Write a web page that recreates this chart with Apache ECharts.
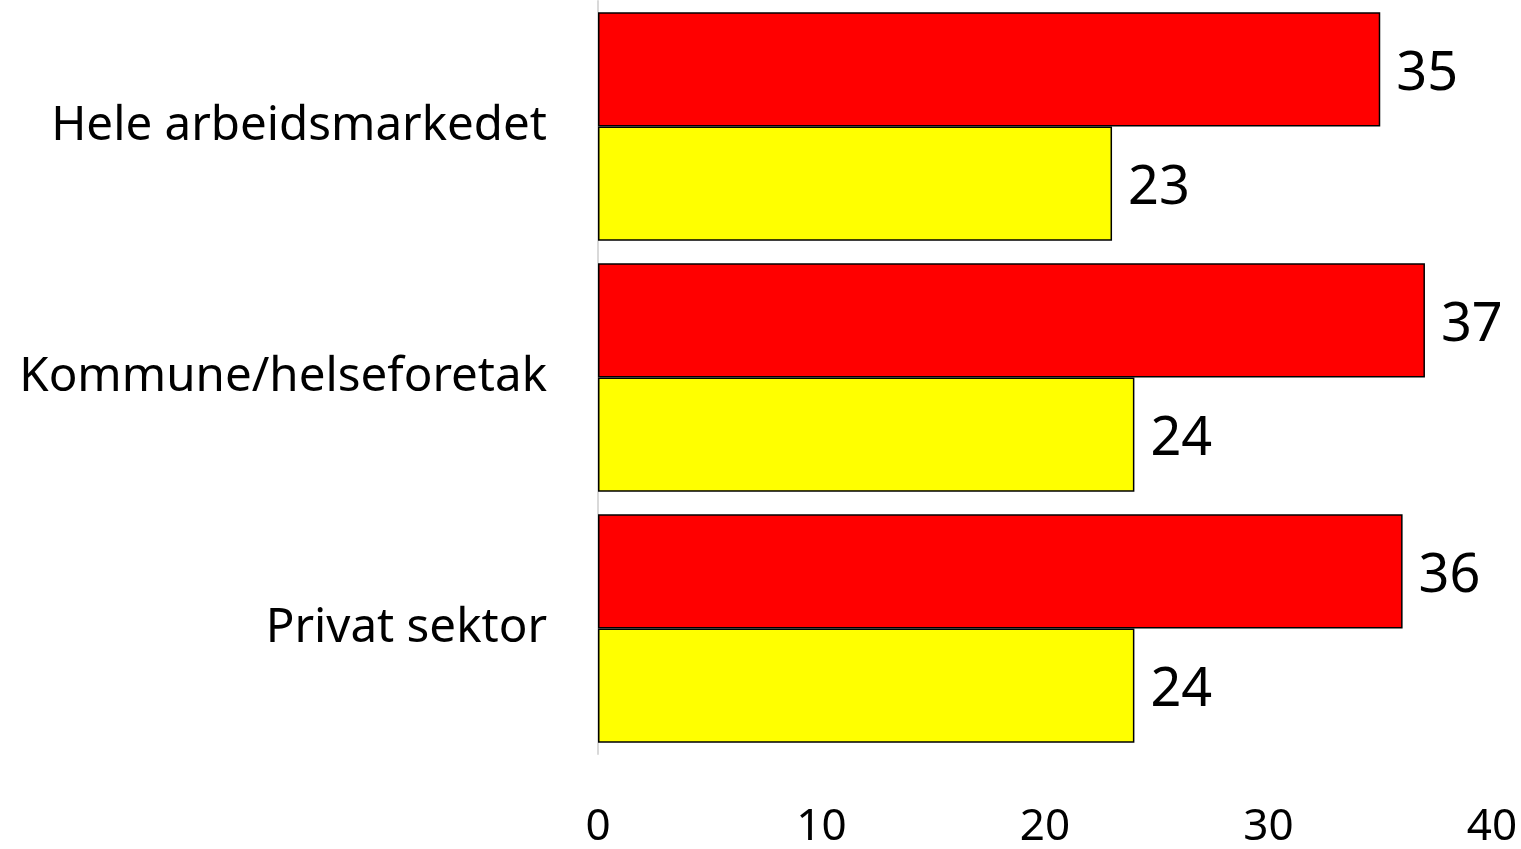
<!DOCTYPE html>
<html lang="no">
<head>
    <meta charset="UTF-8">
    <title>Chart</title>
    <script src="https://cdn.jsdelivr.net/npm/echarts@6/dist/echarts.min.js"></script>
    <style>
        html, body { margin: 0; padding: 0; background: #fff; }
        #main { width: 1521px; height: 849px; }
    </style>
</head>
<body>
<div id="main"></div>
<script>
    var categories = ['Hele arbeidsmarkedet', 'Kommune/helseforetak', 'Privat sektor'];
    var redValues = [35, 37, 36];
    var yellowValues = [23, 24, 24];

    var font = 'Noto Sans';
    var chart = echarts.init(document.getElementById('main'));

    // labels sit a little below bar centre in the original
    var valueLabel = {
        show: true, position: 'right', distance: 16, offset: [0, 5],
        fontSize: 54, color: '#000', fontFamily: font
    };

    var option = {
        animation: false,
        grid: { left: 598, right: 29, top: 1, bottom: 92 },
        xAxis: {
            type: 'value',
            min: 0, max: 40, interval: 10,
            axisLine: { show: false },
            axisTick: { show: false },
            splitLine: { show: false },
            axisLabel: { fontSize: 44, color: '#000', fontFamily: font, margin: 51 }
        },
        yAxis: {
            type: 'category',
            inverse: true,
            data: categories,
            axisLine: { show: true, lineStyle: { color: '#d9d9d9', width: 2 } },
            axisTick: { show: false },
            axisLabel: { fontSize: 47.5, color: '#000', fontFamily: font, margin: 51 }
        },
        series: [{
            type: 'bar',
            data: redValues,
            barGap: '0%',
            barCategoryGap: '9%',
            itemStyle: { color: '#ff0000', borderColor: '#000', borderWidth: 1.5 },
            label: valueLabel
        }, {
            type: 'bar',
            data: yellowValues,
            itemStyle: { color: '#ffff00', borderColor: '#000', borderWidth: 1.5 },
            label: valueLabel
        }]
    };
    chart.setOption(option);
</script>
</body>
</html>
